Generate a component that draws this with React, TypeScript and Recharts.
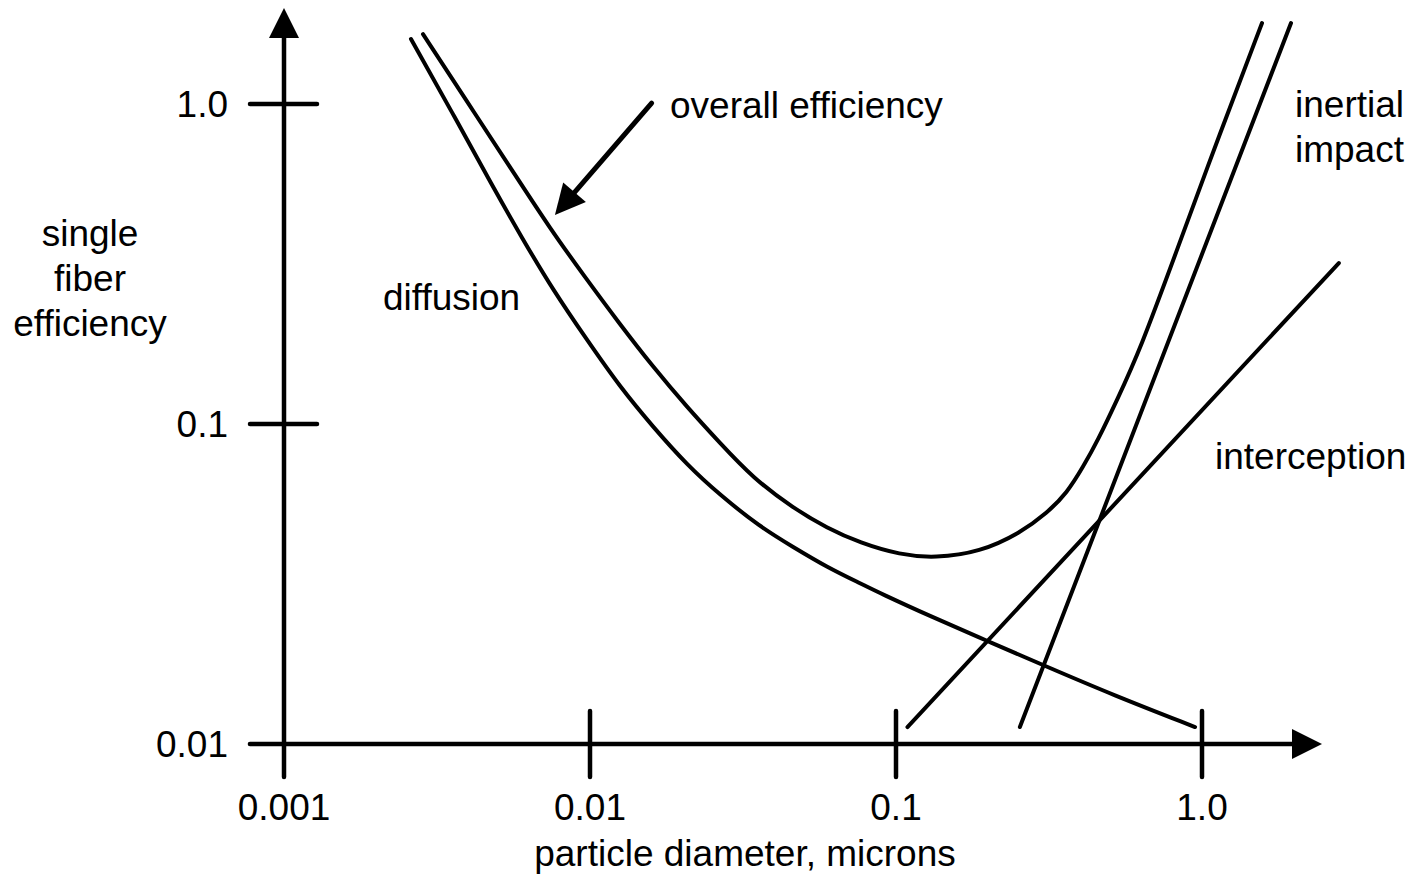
import React from "react";
import { LineChart, Line, XAxis, YAxis, ReferenceLine } from "recharts";

// particle diameter (microns) vs single fiber efficiency
const diffusionX = [0.0026, 0.00354, 0.00482, 0.005995, 0.007569, 0.009777, 0.01253, 0.01607, 0.02075, 0.0266, 0.03594, 0.04607, 0.0595, 0.0763, 0.0887, 0.1292, 0.1984, 0.3022, 0.512, 0.949];
const diffusionY = [1.596, 0.944, 0.55, 0.3814, 0.2623, 0.1831, 0.1305, 0.0979, 0.0745, 0.06, 0.0477, 0.0413, 0.0357, 0.0318, 0.0296, 0.0251, 0.021, 0.01765, 0.01423, 0.0113];

const overallX = [0.002846, 0.003933, 0.005478, 0.007455, 0.009631, 0.01244, 0.01607, 0.02075, 0.0266, 0.03409, 0.04607, 0.0595, 0.0763, 0.1031, 0.1341, 0.1882, 0.2542, 0.3115, 0.3621, 0.4085, 0.4572, 0.5276, 0.6272, 0.8285, 1.145, 1.571];
const overallY = [1.654, 1.029, 0.6355, 0.404, 0.2879, 0.2068, 0.1508, 0.113, 0.0872, 0.0678, 0.0546, 0.0473, 0.0425, 0.039, 0.0381, 0.0398, 0.0456, 0.0527, 0.0609, 0.0734, 0.0891, 0.1189, 0.1703, 0.3498, 0.8115, 1.791];

const interceptionX = [0.109, 2.8];
const interceptionY = [0.0113, 0.3185];

const inertialX = [0.254, 1.954];
const inertialY = [0.0113, 1.791];

const xTicks = [0.001, 0.01, 0.1, 1];
const xTickLabels = ["0.001", "0.01", "0.1", "1.0"];
const yTicks = [0.01, 0.1, 1];
const yTickLabels = ["0.01", "0.1", "1.0"];

const xDomain = [0.001, 2.933];
const yDomain = [0.01, 2.039];

// axis arrows run a little past the origin (cross) and out to the arrow tips
const xAxisSpan = [0.000774, 2.467];
const yAxisSpan = [0.00788, 1.995];

// pointer from the "overall efficiency" label to its curve
const pointerFrom = { x: 0.0159, y: 1.007 };
const pointerTo = { x: 0.00768, y: 0.45 };

const zip = (xs: number[], ys: number[]) => xs.map((x, i) => ({ x, y: ys[i] }));

const diffusion = zip(diffusionX, diffusionY);
const overall = zip(overallX, overallY);
const interception = zip(interceptionX, interceptionY);
const inertial = zip(inertialX, inertialY);

const FONT = "'Liberation Sans', Arial, Helvetica, sans-serif";
const FS = 37;

function ArrowShape(props: any) {
  const { x1, y1, x2, y2, strokeWidth } = props;
  const dx = x2 - x1;
  const dy = y2 - y1;
  const len = Math.hypot(dx, dy) || 1;
  const ux = dx / len;
  const uy = dy / len;
  const head = 30;
  const half = 15;
  const bx = x2 - ux * head;
  const by = y2 - uy * head;
  const pts = `${x2},${y2} ${bx - uy * half},${by + ux * half} ${bx + uy * half},${by - ux * half}`;
  return (
    <g>
      <line x1={x1} y1={y1} x2={bx + ux * 2} y2={by + uy * 2} stroke="#000" strokeWidth={strokeWidth} strokeLinecap="round" />
      <polygon points={pts} fill="#000" />
    </g>
  );
}

function XTick(props: any) {
  const { x, y, payload } = props;
  const i = xTicks.indexOf(payload.value);
  return (
    <g>
      {i > 0 && <line x1={x} x2={x} y1={y - 33} y2={y + 33} stroke="#000" strokeWidth={4.5} strokeLinecap="round" />}
      <text x={x} y={y + 76} textAnchor="middle" fontFamily={FONT} fontSize={FS} fill="#000">
        {xTickLabels[i]}
      </text>
    </g>
  );
}

function YTick(props: any) {
  const { x, y, payload } = props;
  const i = yTicks.indexOf(payload.value);
  return (
    <g>
      {i > 0 && <line x1={x - 34} x2={x + 33} y1={y} y2={y} stroke="#000" strokeWidth={4.5} strokeLinecap="round" />}
      <text x={x - 56} y={y + 13} textAnchor="end" fontFamily={FONT} fontSize={FS} fill="#000">
        {yTickLabels[i]}
      </text>
    </g>
  );
}

export default function App() {
  const txt = { fontFamily: FONT, fontSize: FS, fill: "#000" };
  return (
    <div style={{ position: "absolute", left: 0, top: 0, background: "#fff" }}>
      <LineChart width={1410} height={878} margin={{ top: 5, right: 65, bottom: 0, left: 0 }}>
        <XAxis
          type="number"
          dataKey="x"
          scale="log"
          domain={xDomain}
          allowDataOverflow
          ticks={xTicks}
          interval={0}
          tickSize={0}
          tickMargin={0}
          axisLine={false}
          tickLine={false}
          height={134}
          tick={<XTick />}
        />
        <YAxis
          type="number"
          dataKey="y"
          scale="log"
          domain={yDomain}
          allowDataOverflow
          ticks={yTicks}
          interval={0}
          tickSize={0}
          tickMargin={0}
          axisLine={false}
          tickLine={false}
          width={284}
          tick={<YTick />}
        />

        <ReferenceLine
          segment={[{ x: xAxisSpan[0], y: yDomain[0] }, { x: xAxisSpan[1], y: yDomain[0] }]}
          ifOverflow="visible"
          stroke="#000"
          strokeWidth={4.5}
          shape={ArrowShape}
        />
        <ReferenceLine
          segment={[{ x: xDomain[0], y: yAxisSpan[0] }, { x: xDomain[0], y: yAxisSpan[1] }]}
          ifOverflow="visible"
          stroke="#000"
          strokeWidth={4.5}
          shape={ArrowShape}
        />
        <ReferenceLine
          segment={[pointerFrom, pointerTo]}
          ifOverflow="visible"
          stroke="#000"
          strokeWidth={5}
          shape={ArrowShape}
        />

        <Line data={diffusion} dataKey="y" type="basis" stroke="#000" strokeWidth={4} strokeLinecap="round" dot={false} activeDot={false} isAnimationActive={false} />
        <Line data={overall} dataKey="y" type="basis" stroke="#000" strokeWidth={4} strokeLinecap="round" dot={false} activeDot={false} isAnimationActive={false} />
        <Line data={interception} dataKey="y" type="linear" stroke="#000" strokeWidth={4} strokeLinecap="round" dot={false} activeDot={false} isAnimationActive={false} />
        <Line data={inertial} dataKey="y" type="linear" stroke="#000" strokeWidth={4} strokeLinecap="round" dot={false} activeDot={false} isAnimationActive={false} />

        <text {...txt} x={90} y={246} textAnchor="middle">single</text>
        <text {...txt} x={90} y={291} textAnchor="middle">fiber</text>
        <text {...txt} x={90} y={336} textAnchor="middle">efficiency</text>
        <text {...txt} x={745} y={866} textAnchor="middle">particle diameter, microns</text>
        <text {...txt} x={670} y={118}>overall efficiency</text>
        <text {...txt} x={383} y={310}>diffusion</text>
        <text {...txt} x={1295} y={117}>inertial</text>
        <text {...txt} x={1295} y={162}>impact</text>
        <text {...txt} x={1215} y={469}>interception</text>
      </LineChart>
    </div>
  );
}
